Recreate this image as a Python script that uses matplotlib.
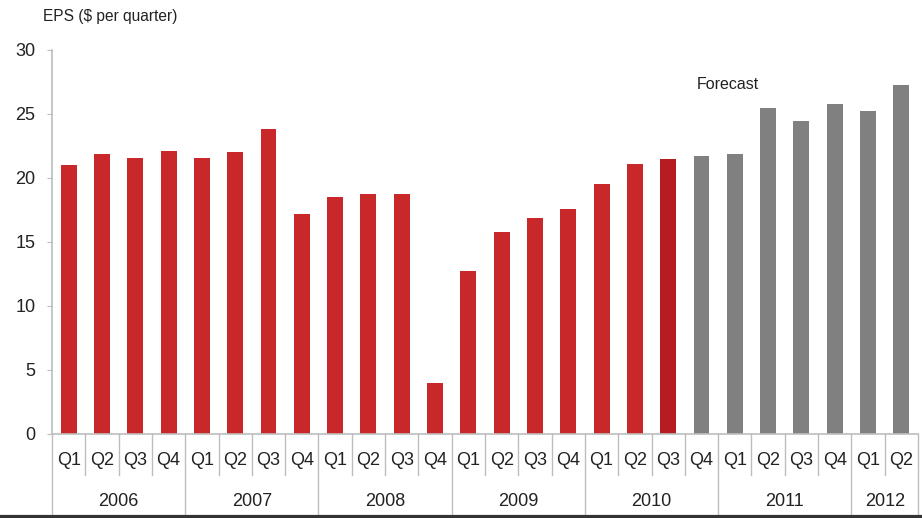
import matplotlib
matplotlib.use("Agg")
import matplotlib.pyplot as plt
from matplotlib.lines import Line2D

plt.rcParams['font.family'] = ['Liberation Sans', 'DejaVu Sans']

years = ["2006", "2007", "2008", "2009", "2010", "2011", "2012"]
quarters_per_year = [4, 4, 4, 4, 4, 4, 2]
quarter_labels = ["Q1", "Q2", "Q3", "Q4"] * 6 + ["Q1", "Q2"]

eps_actual = [21.0, 21.9, 21.6, 22.1,
              21.55, 22.0, 23.8, 17.2,
              18.5, 18.75, 18.75, 4.0,
              12.7, 15.8, 16.9, 17.6,
              19.5, 21.1, 21.5]
eps_forecast = [21.7,
                21.9, 25.5, 24.45, 25.8,
                25.2, 27.3]

red = "#C9282B"
dark_red = "#B51D23"
grey = "#808080"
line_grey = "#BDBDBD"
text_col = "#222222"

fig = plt.figure(figsize=(9.22, 5.18), dpi=100)
ax = fig.add_axes([52 / 922, 84 / 518, 866 / 922, 384 / 518])

n_act = len(eps_actual)
x_act = list(range(n_act))
x_fc = list(range(n_act, n_act + len(eps_forecast)))
act_colors = [red] * (n_act - 1) + [dark_red]

ax.bar(x_act, eps_actual, width=0.48, color=act_colors, zorder=2)
ax.bar(x_fc, eps_forecast, width=0.48, color=grey, zorder=2)

n = n_act + len(eps_forecast)
ax.set_xlim(-0.5, n - 0.5)
ax.set_ylim(0, 30)
ax.set_yticks([0, 5, 10, 15, 20, 25, 30])
ax.tick_params(axis='y', direction='out', length=3.5, color=line_grey,
               labelsize=13, labelcolor=text_col, pad=8.5)
ax.set_xticks([])

for side in ["top", "right"]:
    ax.spines[side].set_visible(False)
ax.spines["left"].set_color(line_grey)
ax.spines["left"].set_linewidth(1.2)
ax.spines["bottom"].set_color(line_grey)
ax.spines["bottom"].set_linewidth(1.2)

# Category table below the axis: quarter row and year row
q_bottom = -3.2
y_bottom = -6.5
for i in range(n):
    ax.text(i, -2.05, quarter_labels[i], ha="center", va="center",
            fontsize=13, color=text_col, clip_on=False)

year_edges = [0]
for k in quarters_per_year:
    year_edges.append(year_edges[-1] + k)

for i in range(n + 1):
    bottom = y_bottom if i in year_edges else q_bottom
    ax.add_line(Line2D([i - 0.5, i - 0.5], [0, bottom], color=line_grey,
                       lw=1.0, clip_on=False))

for yr, a, b in zip(years, year_edges[:-1], year_edges[1:]):
    ax.text((a + b - 1) / 2, -5.3, yr, ha="center", va="center",
            fontsize=13, color=text_col, clip_on=False)

fig.add_artist(Line2D([0, 1], [2.5 / 518, 2.5 / 518], color="#333333", lw=2.3))

fig.text(43 / 922, 1 - 17 / 518, "EPS ($ per quarter)", fontsize=11.2,
         color=text_col, ha="left", va="center")
ax.text(n_act + 0.8, 27.3, "Forecast", fontsize=11.5, color=text_col,
        ha="center", va="center")

fig.savefig("out.png", dpi=100)
